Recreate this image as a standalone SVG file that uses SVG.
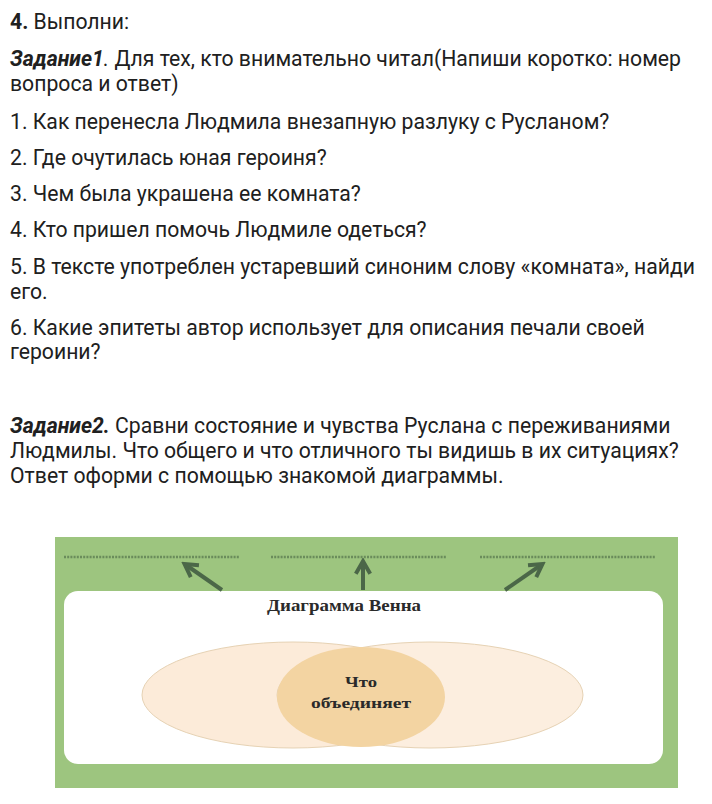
<svg xmlns="http://www.w3.org/2000/svg" width="712" height="804" viewBox="0 0 712 804">
<defs>
<style>
.t{font-family:Roboto,"Noto Sans",sans-serif;font-size:21.2px;fill:#202020}
.b{font-weight:bold}
.bi{font-weight:bold;font-style:italic}
.s{font-family:"Liberation Serif","DejaVu Serif",serif;font-weight:bold;fill:#2a2a2a}
.dot{stroke:#6a8c5b;stroke-width:2.5;stroke-dasharray:2 1.2;fill:none}
.arr{stroke:#4b6748;stroke-width:4;fill:none;marker-end:url(#ah)}
</style>
<marker id="ah" viewBox="0 0 10 10" refX="7" refY="5" markerWidth="4.5" markerHeight="4.5" orient="auto" markerUnits="strokeWidth">
<path d="M1,1 L8,5 L1,9" fill="none" stroke="#4b6748" stroke-width="2.2" stroke-linejoin="miter"/>
</marker>
</defs>
<rect width="712" height="804" fill="#ffffff"/>
<g id="text">
<text class="t" x="10" y="29"><tspan class="b">4.</tspan> Выполни:</text>
<text class="t" x="10" y="66"><tspan class="bi">Задание1</tspan><tspan font-style="italic">.</tspan> Для тех, кто внимательно читал(Напиши коротко: номер</text>
<text class="t" x="10" y="91">вопроса и ответ)</text>
<text class="t" x="10" y="129">1. Как перенесла Людмила внезапную разлуку с Русланом?</text>
<text class="t" x="10" y="165">2. Где очутилась юная героиня?</text>
<text class="t" x="10" y="201">3. Чем была украшена ее комната?</text>
<text class="t" x="10" y="237">4. Кто пришел помочь Людмиле одеться?</text>
<text class="t" x="10" y="274">5. В тексте употреблен устаревший синоним слову «комната», найди</text>
<text class="t" x="10" y="299">его.</text>
<text class="t" x="10" y="335">6. Какие эпитеты автор использует для описания печали своей</text>
<text class="t" x="10" y="359">героини?</text>
<text class="t" x="10" y="433"><tspan class="bi">Задание2.</tspan> Сравни состояние и чувства Руслана с переживаниями</text>
<text class="t" x="10" y="458">Людмилы. Что общего и что отличного ты видишь в их ситуациях?</text>
<text class="t" x="10" y="483">Ответ оформи с помощью знакомой диаграммы.</text>
</g>
<g id="frame">
<rect x="55" y="537" width="623" height="251" fill="#9dc57f"/>
<rect x="64" y="591" width="599" height="173" rx="14" fill="#ffffff"/>
</g>
<g id="blanks">
<line class="dot" x1="64" y1="557" x2="239" y2="557"/>
<line class="dot" x1="271" y1="557" x2="446" y2="557"/>
<line class="dot" x1="480" y1="557" x2="655" y2="557"/>
</g>
<g id="connectors">
<line class="arr" x1="222" y1="590" x2="186" y2="565"/>
<line class="arr" x1="363" y1="590" x2="363" y2="563"/>
<line class="arr" x1="505" y1="590" x2="541" y2="565"/>
</g>
<g id="title">
<text class="s" x="344" y="611" font-size="16" text-anchor="middle" textLength="154" lengthAdjust="spacingAndGlyphs">Диаграмма Венна</text>
</g>
<g id="venn-left">
<ellipse cx="293" cy="695" rx="151" ry="53" fill="#fcebd9" stroke="#e6d2b4" stroke-width="1"/>
</g>
<g id="venn-right">
<ellipse cx="430" cy="695" rx="153" ry="53" fill="#fcebd9" fill-opacity="0.85" stroke="#e6d2b4" stroke-width="1"/>
</g>
<g id="venn-center">
<ellipse cx="361" cy="697" rx="84" ry="50" fill="#f3d4a2"/>
<text class="s" x="361" y="687" font-size="14" text-anchor="middle" textLength="32" lengthAdjust="spacingAndGlyphs">Что</text>
<text class="s" x="361" y="708" font-size="14" text-anchor="middle" textLength="100" lengthAdjust="spacingAndGlyphs">объединяет</text>
</g>
</svg>
